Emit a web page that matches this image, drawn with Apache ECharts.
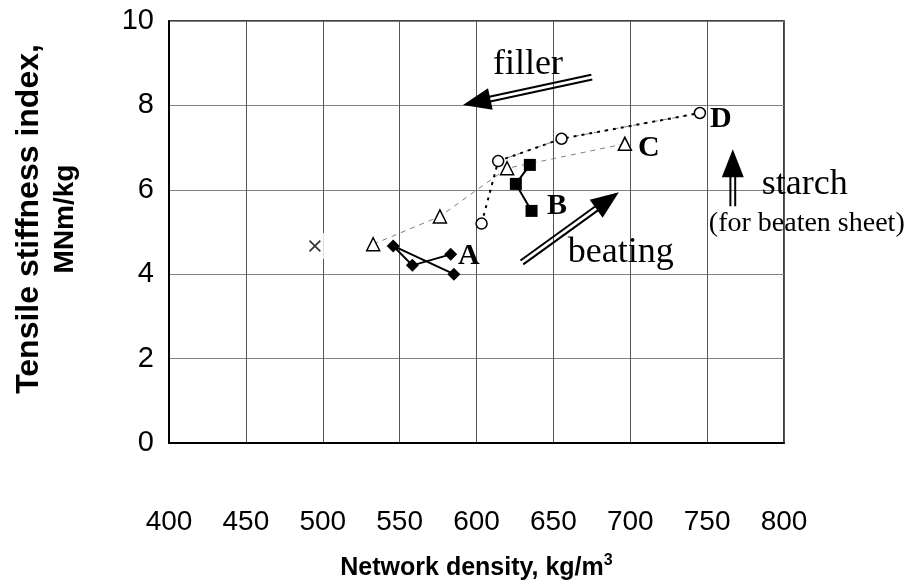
<!DOCTYPE html>
<html><head><meta charset="utf-8">
<script src="https://cdn.jsdelivr.net/npm/echarts/dist/echarts.min.js"></script>
<style>html,body{margin:0;padding:0;background:#fff}#c{width:910px;height:580px}</style>
</head><body><div id="c"></div>
<script>
// ---- data ----
const xTicks = [400, 450, 500, 550, 600, 650, 700, 750, 800];
const yTicks = [0, 2, 4, 6, 8, 10];
const aX = [583.2, 558.3, 545.8, 585.3];
const aY = [4.47, 4.21, 4.67, 4.00];
const bX = [634.7, 625.6, 635.8];
const bY = [6.59, 6.14, 5.50];
const cX = [532.8, 576.2, 619.9, 696.5];
const cY = [4.71, 5.37, 6.51, 7.09];
const dX = [603.3, 614.1, 655.3, 745.3];
const dY = [5.20, 6.68, 7.21, 7.82];
const refX = [494.9];
const refY = [4.67];
// annotation anchors in data units
const labelNames = ['A', 'B', 'C', 'D'];
const labelX = [587.9, 645.8, 705.0, 751.8];
const labelY = [4.42, 5.60, 6.98, 7.66];
const noteTexts = ['filler', 'beating', 'starch', '(for beaten sheet)'];
const noteX = [610.7, 659.4, 785.6, 751.1];
const noteY = [8.96, 4.52, 6.12, 5.20];
const noteSize = [36, 36, 36, 28];
const arrowFrom = [[675.0, 8.67], [629.5, 4.28], [766.7, 5.61]];
const arrowTo = [[591.2, 8.01], [692.6, 5.94], [766.7, 6.96]];

const zip = (xs, ys) => xs.map((x, i) => [x, ys[i]]);
const chart = echarts.init(document.getElementById('c'));
const SANS = 'Liberation Sans';
const SERIF = 'Liberation Serif';

const option = {
  animation: false,
  backgroundColor: '#fff',
  grid: { left: 169, right: 126, top: 21, bottom: 137, containLabel: false, outerBoundsMode: 'none',
    show: true, borderColor: '#000', borderWidth: 1.5, backgroundColor: 'transparent' },
  xAxis: {
    type: 'value', min: xTicks[0], max: xTicks[xTicks.length - 1], interval: 50,
    axisLine: { show: true, lineStyle: { color: '#000', width: 2 } },
    axisTick: { show: false },
    splitLine: { show: true, lineStyle: { color: '#555', width: 1 } },
    axisLabel: { fontFamily: SANS, fontSize: 28, color: '#000', margin: 65 },
    name: 'Network density, kg/m{sup|3}',
    nameLocation: 'middle', nameGap: 110,
    nameTextStyle: { fontFamily: SANS, fontSize: 25, fontWeight: 'bold', color: '#000', lineHeight: 30,
      rich: { sup: { fontFamily: SANS, fontSize: 16, fontWeight: 'bold', color: '#000', verticalAlign: 'top', lineHeight: 30 } } }
  },
  yAxis: {
    type: 'value', min: yTicks[0], max: yTicks[yTicks.length - 1], interval: 2,
    axisLine: { show: true, lineStyle: { color: '#000', width: 2 } },
    axisTick: { show: false },
    splitLine: { show: true, lineStyle: { color: '#808080', width: 1 } },
    axisLabel: { fontFamily: SANS, fontSize: 29, color: '#000', margin: 15 },
    name: '{a|Tensile stiffness index,}\n{b|MNm/kg}',
    nameLocation: 'middle', nameGap: 86, nameRotate: 90,
    nameTextStyle: { color: '#000', padding: [0, 0, 0, 26],
      rich: {
        a: { fontFamily: SANS, fontSize: 32, fontWeight: 'bold', color: '#000', lineHeight: 36 },
        b: { fontFamily: SANS, fontSize: 28, fontWeight: 'bold', color: '#000', lineHeight: 36 }
      } }
  },
  series: [
    { name: 'C', type: 'line', data: zip(cX, cY), symbol: 'triangle', symbolSize: 13, showAllSymbol: true,
      lineStyle: { color: '#808080', width: 1, type: [5, 5] },
      itemStyle: { color: '#fff', borderColor: '#000', borderWidth: 1.5 }, z: 3 },
    { name: 'Dgray', type: 'line', data: zip(dX.slice(1), dY.slice(1)), symbol: 'none',
      lineStyle: { color: '#808080', width: 1, type: [5, 5] }, z: 3 },
    { name: 'D', type: 'line', data: zip(dX, dY), symbol: 'circle', symbolSize: 11, showAllSymbol: true,
      lineStyle: { color: '#000', width: 2, type: [3, 5] },
      itemStyle: { color: '#fff', borderColor: '#000', borderWidth: 1.5 }, z: 4 },
    { name: 'A', type: 'line', data: zip(aX, aY), symbol: 'diamond', symbolSize: 13, showAllSymbol: true,
      lineStyle: { color: '#000', width: 2 }, itemStyle: { color: '#000' }, z: 5 },
    { name: 'B', type: 'line', data: zip(bX, bY), symbol: 'rect', symbolSize: 12, showAllSymbol: true,
      lineStyle: { color: '#000', width: 2 }, itemStyle: { color: '#000' }, z: 5 },
    { name: 'refBg', type: 'scatter', data: zip(refX.map(v => v + 1.6), refY), symbol: 'rect', symbolSize: [16, 26],
      itemStyle: { color: '#fff' }, z: 5, silent: true },
    { name: 'ref', type: 'scatter', data: zip(refX, refY),
      symbol: 'path://M0,1L1,0L5,4L9,0L10,1L6,5L10,9L9,10L5,6L1,10L0,9L4,5Z', symbolSize: 12,
      itemStyle: { color: '#000' }, z: 6 }
  ]
};
chart.setOption(option);

function px(p) { return chart.convertToPixel({ gridIndex: 0 }, p); }
function arrowGraphics(p0, p1) {
  const a = px(p0), b = px(p1);
  const dx = b[0] - a[0], dy = b[1] - a[1], L = Math.hypot(dx, dy);
  const ux = dx / L, uy = dy / L, nx = -uy, ny = ux;
  const headLen = 28, headHalf = 11, off = 2.4;
  const bx = b[0] - ux * headLen, by = b[1] - uy * headLen;
  const ex = bx + ux * 3, ey = by + uy * 3;
  const els = [];
  [-1, 1].forEach(s => {
    els.push({ type: 'line', z: 20, shape: { x1: a[0] + nx * off * s, y1: a[1] + ny * off * s, x2: ex + nx * off * s, y2: ey + ny * off * s },
      style: { stroke: '#000', lineWidth: 2 } });
  });
  els.push({ type: 'polygon', z: 21, shape: { points: [[b[0], b[1]], [bx + nx * headHalf, by + ny * headHalf], [bx - nx * headHalf, by - ny * headHalf]] },
    style: { fill: '#000' } });
  return els;
}
const graphics = [];
arrowFrom.forEach((p, i) => graphics.push(...arrowGraphics(p, arrowTo[i])));
labelNames.forEach((t, i) => {
  const p = px([labelX[i], labelY[i]]);
  graphics.push({ type: 'text', z: 22, x: p[0], y: p[1], style: { text: t, font: 'bold 30px "' + SERIF + '"', fill: '#000', align: 'left', verticalAlign: 'middle' } });
});
noteTexts.forEach((t, i) => {
  const p = px([noteX[i], noteY[i]]);
  graphics.push({ type: 'text', z: 22, x: p[0], y: p[1], style: { text: t, font: noteSize[i] + 'px "' + SERIF + '"', fill: '#000', align: 'left', verticalAlign: 'middle' } });
});
chart.setOption({ graphic: graphics });
</script>
</body></html>
